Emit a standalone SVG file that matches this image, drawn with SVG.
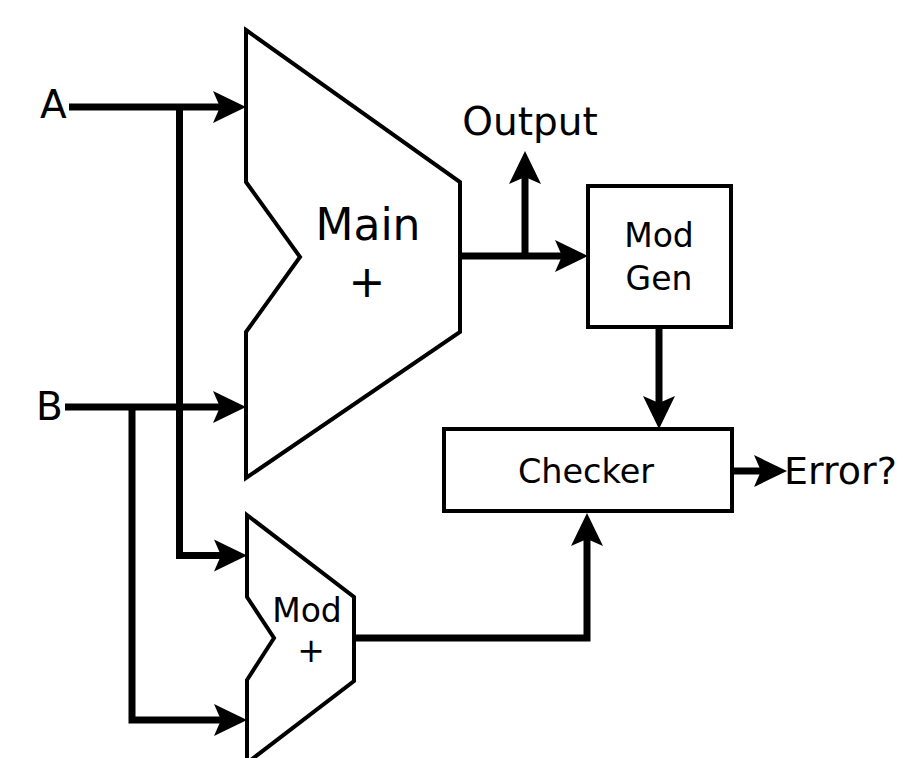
<svg xmlns="http://www.w3.org/2000/svg" width="906" height="758" viewBox="0 0 906 758">
  <style>
    .shape { fill: #ffffff; stroke: #000000; stroke-width: 4; stroke-linejoin: miter; }
    .wire { fill: none; stroke: #000000; stroke-width: 7; stroke-linejoin: miter; stroke-linecap: butt; marker-end: url(#arrow); }
    text { font-family: "DejaVu Sans", "Liberation Sans", sans-serif; fill: #000000; }
    .mid { text-anchor: middle; }
  </style>
  <defs>
    <marker id="arrow" markerUnits="userSpaceOnUse" viewBox="-8 -17 36 34" markerWidth="36" markerHeight="34" refX="0" refY="0" orient="auto">
      <path d="M26,0 L-7,-16 L0,0 L-7,16 Z" fill="#000000"/>
    </marker>
  </defs>

  <g id="main-adder">
    <path class="shape" d="M246,30 L460,182 L460,332 L246,478 L246,332 L300,257 L246,182 Z"/>
    <text class="mid" x="368" y="240" font-size="44">Main</text>
    <text class="mid" x="367" y="297" font-size="44">+</text>
  </g>

  <g id="mod-adder">
    <path class="shape" d="M247,515 L354,597 L354,681 L247,763 L247,680 L274,638 L247,597 Z"/>
    <text class="mid" x="307" y="622" font-size="33">Mod</text>
    <text class="mid" x="311" y="662" font-size="33">+</text>
  </g>

  <g id="mod-gen">
    <rect class="shape" x="588" y="186" width="143" height="141"/>
    <text class="mid" x="659" y="247" font-size="33">Mod</text>
    <text class="mid" x="659" y="290" font-size="33">Gen</text>
  </g>

  <g id="checker">
    <rect class="shape" x="444" y="429" width="288" height="82"/>
    <text class="mid" x="586" y="483" font-size="33.5">Checker</text>
  </g>

  <g id="label-a">
    <text x="40" y="118" font-size="39">A</text>
  </g>
  <g id="label-b">
    <text x="36" y="420" font-size="39">B</text>
  </g>
  <g id="label-output">
    <text class="mid" x="530" y="135" font-size="39">Output</text>
  </g>
  <g id="label-error">
    <text x="784" y="484" font-size="38">Error?</text>
  </g>

  <g id="connectors">
    <path class="wire" d="M69,107 H220"/>
    <path class="wire" d="M179.5,107 V555.5 H221"/>
    <path class="wire" d="M65,407 H220"/>
    <path class="wire" d="M132,407 V720 H221"/>
    <path class="wire" d="M460,256 H562"/>
    <path class="wire" d="M525,256 V177"/>
    <path class="wire" d="M659,327 V403"/>
    <path class="wire" d="M354,638 H587 V539"/>
    <path class="wire" d="M732,471 H761"/>
  </g>
</svg>
